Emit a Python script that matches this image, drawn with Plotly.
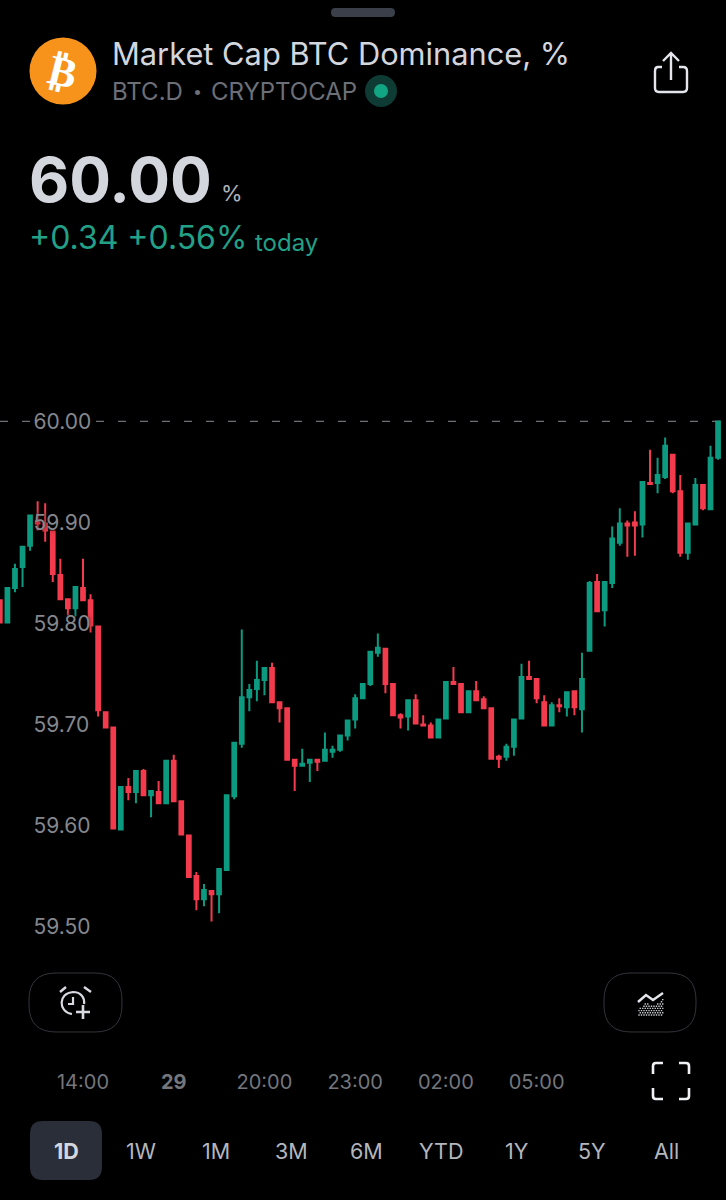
import plotly.graph_objects as go

candle_index = list(range(96))
opens = [59.823,59.801,59.835,59.856,59.877,59.901,59.899,59.891,59.848,59.824,
59.815,59.835,59.823,59.797,59.712,59.697,59.596,59.638,59.633,59.654,
59.630,59.633,59.622,59.664,59.624,59.590,59.550,59.527,59.535,59.532,
59.556,59.629,59.681,59.727,59.735,59.744,59.756,59.722,59.716,59.665,
59.659,59.662,59.665,59.664,59.673,59.675,59.689,59.705,59.726,59.740,
59.771,59.775,59.740,59.709,59.708,59.724,59.700,59.699,59.687,59.706,
59.742,59.740,59.712,59.733,59.725,59.716,59.668,59.668,59.678,59.706,
59.747,59.745,59.722,59.699,59.719,59.717,59.733,59.715,59.773,59.841,
59.813,59.840,59.880,59.899,59.900,59.898,59.939,59.939,59.945,59.967,
59.931,59.870,59.898,59.937,59.913,59.964]
highs = [59.823,59.835,59.859,59.876,59.907,59.921,59.919,59.891,59.864,59.824,
59.836,59.864,59.829,59.797,59.713,59.697,59.638,59.647,59.655,59.656,
59.634,59.644,59.664,59.670,59.624,59.590,59.554,59.542,59.535,59.557,
59.630,59.682,59.794,59.740,59.763,59.756,59.761,59.722,59.716,59.665,
59.676,59.665,59.666,59.692,59.679,59.689,59.704,59.730,59.740,59.772,
59.790,59.775,59.740,59.711,59.724,59.730,59.709,59.702,59.705,59.742,
59.757,59.740,59.733,59.743,59.728,59.716,59.670,59.681,59.705,59.760,
59.763,59.745,59.729,59.722,59.726,59.732,59.733,59.771,59.842,59.849,
59.841,59.896,59.914,59.902,59.911,59.940,59.972,59.964,59.984,59.967,
59.947,59.900,59.944,59.937,59.976,60.000]
lows = [59.801,59.801,59.831,59.836,59.872,59.892,59.881,59.841,59.824,59.808,
59.807,59.822,59.791,59.708,59.697,59.597,59.596,59.625,59.622,59.630,
59.608,59.622,59.622,59.624,59.591,59.549,59.516,59.520,59.505,59.513,
59.556,59.626,59.677,59.713,59.723,59.729,59.722,59.702,59.665,59.634,
59.659,59.643,59.654,59.664,59.667,59.673,59.684,59.696,59.726,59.738,
59.767,59.731,59.709,59.696,59.694,59.701,59.699,59.687,59.687,59.706,
59.740,59.712,59.712,59.724,59.716,59.666,59.657,59.664,59.669,59.706,
59.745,59.721,59.699,59.699,59.712,59.708,59.709,59.692,59.773,59.812,
59.797,59.835,59.877,59.866,59.867,59.885,59.938,59.929,59.943,59.929,
59.866,59.863,59.898,59.912,59.913,59.962]
closes = [59.801,59.835,59.854,59.876,59.907,59.899,59.892,59.849,59.824,59.815,
59.836,59.823,59.798,59.714,59.697,59.597,59.638,59.633,59.654,59.630,
59.634,59.622,59.664,59.624,59.591,59.549,59.527,59.536,59.532,59.557,
59.630,59.682,59.727,59.734,59.744,59.756,59.722,59.716,59.665,59.659,
59.661,59.665,59.663,59.675,59.675,59.689,59.704,59.726,59.740,59.772,
59.776,59.740,59.709,59.707,59.724,59.701,59.699,59.687,59.705,59.742,
59.740,59.712,59.733,59.724,59.716,59.666,59.666,59.678,59.705,59.747,
59.745,59.726,59.699,59.719,59.718,59.732,59.717,59.745,59.840,59.812,
59.841,59.884,59.899,59.897,59.897,59.940,59.938,59.947,59.976,59.931,
59.870,59.899,59.937,59.914,59.964,60.000]
price_ticks = [59.5, 59.6, 59.7, 59.8, 59.9, 60.0]
time_tick_index = [11, 23, 35, 47, 59, 71]
time_tick_labels = ["14:00", "<b>29</b>", "20:00", "23:00", "02:00", "05:00"]
timeframes = ["1D", "1W", "1M", "3M", "6M", "YTD", "1Y", "5Y", "All"]
last_price = 60.0

W, H, PLOT_H = 726, 1200, 1063
FONT = "Inter, Roboto, sans-serif"
UP, DOWN = "#0C9A80", "#F33B4D"
FG, MUTED = "#D4D6DE", "#6D6F78"


def px(x):
    return x / W


def py(y):
    return 1 - y / PLOT_H


def P(cmd, *pts):
    return cmd + " ".join(f"{px(pts[i]):.6f},{py(pts[i + 1]):.6f}" for i in range(0, len(pts), 2))


def rrect(x0, y0, x1, y1, r):
    return " ".join([
        P("M", x0 + r, y0), P("L", x1 - r, y0), P("Q", x1, y0, x1, y0 + r),
        P("L", x1, y1 - r), P("Q", x1, y1, x1 - r, y1), P("L", x0 + r, y1),
        P("Q", x0, y1, x0, y1 - r), P("L", x0, y0 + r), P("Q", x0, y0, x0 + r, y0), "Z"])


shapes, annos = [], []


def path(d, color=None, fill=None, width=2):
    shapes.append(dict(type="path", xref="paper", yref="paper", path=d,
                       line=dict(color=color or "rgba(0,0,0,0)", width=width),
                       fillcolor=fill or "rgba(0,0,0,0)", layer="above"))


def circle(cx, cy, r, fill=None, color=None, width=2):
    shapes.append(dict(type="circle", xref="paper", yref="paper",
                       x0=px(cx - r), x1=px(cx + r), y0=py(cy + r), y1=py(cy - r),
                       line=dict(color=color or "rgba(0,0,0,0)", width=width),
                       fillcolor=fill or "rgba(0,0,0,0)", layer="above"))


def text(s, x, y, size, color, anchor="left", family=FONT, angle=0, weight=None):
    f = dict(size=size, color=color, family=family)
    if weight:
        f["weight"] = weight
    annos.append(dict(text=s, x=px(x), y=py(y), xref="paper", yref="paper", showarrow=False,
                      xanchor=anchor, yanchor="middle", textangle=angle, font=f))


# header
path(rrect(331, 8, 395, 17, 4.5), fill="#3B3F4A", width=0)
circle(63, 71, 33.5, fill="#F7931A")
text("<b>₿</b>", 63, 71, 42, "#FFFFFF", "center", "DejaVu Sans", 14)
text("Market Cap BTC Dominance, %", 110, 54, 30.8, FG)
text("BTC.D", 110, 91, 24, MUTED)
text("•", 197, 91, 16, MUTED, "center")
text("CRYPTOCAP", 209, 91, 24, MUTED)
circle(381, 91, 16, fill="#0E3B34")
circle(381, 91, 7, fill="#12A583")
text("<b>60.00</b>", 27, 179, 62, FG)
text("%", 219, 193, 22, "#B0B2BA")
text("+0.34 +0.56%", 27, 238, 32, "#22A088")
text("today", 253, 242, 24, "#22A088")

# share icon
path(" ".join([P("M", 662, 67), P("L", 658, 67), P("Q", 655, 67, 655, 71), P("L", 655, 88),
               P("Q", 655, 92, 659, 92), P("L", 683, 92), P("Q", 687, 92, 687, 88),
               P("L", 687, 71), P("Q", 687, 67, 683, 67), P("L", 679, 67)]), color="#E4E6EC", width=2.4)
path(" ".join([P("M", 671, 80), P("L", 671, 53), P("M", 663, 61), P("L", 671, 53), P("L", 679, 61)]),
     color="#E4E6EC", width=2.4)

# buttons
path(rrect(29, 973, 122, 1032, 27), color="#33353B", width=1)
path(rrect(604, 973, 696, 1032, 27), color="#33353B", width=1)

# alarm icon
path(" ".join([P("M", 72, 1014), P("C", 58, 1012, 58, 993, 73, 992), P("C", 81, 992, 85, 998, 84, 1004)]),
     color="#D8DAE0", width=2.2)
path(" ".join([P("M", 73, 997), P("L", 73, 1004), P("L", 68, 1004)]), color="#D8DAE0", width=2.2)
path(" ".join([P("M", 60, 992), P("L", 66, 987), P("M", 84, 987), P("L", 91, 992)]), color="#D8DAE0", width=2.4)
path(" ".join([P("M", 83, 1005), P("L", 83, 1019), P("M", 76, 1012), P("L", 90, 1012)]), color="#D8DAE0", width=2.6)

# indicators icon: dotted area under a zigzag
top_edge = [(638, 1010), (646, 1003), (653, 1007), (663, 999)]


def edge_y(x):
    for (xa, ya), (xb, yb) in zip(top_edge, top_edge[1:]):
        if xa <= x <= xb:
            return ya + (yb - ya) * (x - xa) / (xb - xa)
    return 1015


dots = []
for row in range(8):
    yy = 1015 - row * 2.2
    x = 639 + (row % 2) * 1.25
    while x < 664:
        if yy >= edge_y(x):
            dots.append(" ".join([P("M", x - 0.7, yy - 0.7), P("L", x + 0.7, yy - 0.7),
                                  P("L", x + 0.7, yy + 0.7), P("L", x - 0.7, yy + 0.7), "Z"]))
        x += 2.5
path(" ".join(dots), fill="#C8CAD0", width=0)
path(" ".join([P("M", 638, 1002), P("L", 646, 995), P("L", 653, 1000), P("L", 663, 993)]),
     color="#E4E6EC", width=2.4)

# fullscreen icon
for d in ([653, 1074, 653, 1063, 663], [689, 1074, 689, 1063, 679],
          [653, 1088, 653, 1099, 663], [689, 1088, 689, 1099, 679]):
    x0, y0, x1, y1, x2 = d
    mx = x0 + (3 if x0 < 670 else -3)
    my = y1 + (3 if y1 < 1080 else -3)
    path(" ".join([P("M", x0, y0), P("L", x0, my), P("Q", x0, y1, mx, y1), P("L", x2, y1)]),
         color="#F0F1F4", width=2.6)

# timeframe selector
path(rrect(30, 1121, 102, 1180, 13), fill="#2A2E39", width=0)
for i, tf in enumerate(timeframes):
    cx = 66 + i * 75.1
    text(f"<b>{tf}</b>" if i == 0 else tf, cx, 1151, 21.5, FG if i == 0 else "#B4B6BD", "center")

# last-price dashed line, broken around its label
for a, b in ((0, 31), (96, W)):
    shapes.append(dict(type="line", xref="paper", yref="y", x0=px(a), x1=px(b),
                       y0=last_price, y1=last_price, layer="below",
                       line=dict(color="#6E7076", width=1.2, dash="8px,14px")))

fig = go.Figure(go.Candlestick(
    x=candle_index, open=opens, high=highs, low=lows, close=closes,
    increasing=dict(line=dict(color=UP, width=2), fillcolor=UP),
    decreasing=dict(line=dict(color=DOWN, width=2), fillcolor=DOWN),
    whiskerwidth=0, hoverinfo="skip", showlegend=False))

fig.update_layout(
    width=W, height=H, margin=dict(l=0, r=0, t=0, b=H - PLOT_H, pad=0),
    paper_bgcolor="#000000", plot_bgcolor="#000000", boxgap=0.3,
    shapes=shapes, annotations=annos, showlegend=False,
    xaxis=dict(range=[0.021, 96.05], rangeslider=dict(visible=False), showgrid=False, zeroline=False,
               showline=False, tickmode="array", tickvals=time_tick_index, ticktext=time_tick_labels,
               ticks="outside", ticklen=1, tickcolor="rgba(0,0,0,0)",
               tickfont=dict(family=FONT, size=20, color="#74767C")),
    yaxis=dict(range=[59.3648, 60.4173], showgrid=False, zeroline=False, showline=False,
               anchor="free", position=32.5 / W, side="right",
               tickmode="array", tickvals=price_ticks, ticktext=[f"{v:.2f}" for v in price_ticks],
               ticks="", tickfont=dict(family=FONT, size=21, color="#85878D",
                                       shadow="0 0 4px rgba(0,0,0,0.75)")),
)
fig.write_html("out.html", config=dict(displayModeBar=False),
               post_script="document.body.style.margin='0';document.body.style.background='#000';")
